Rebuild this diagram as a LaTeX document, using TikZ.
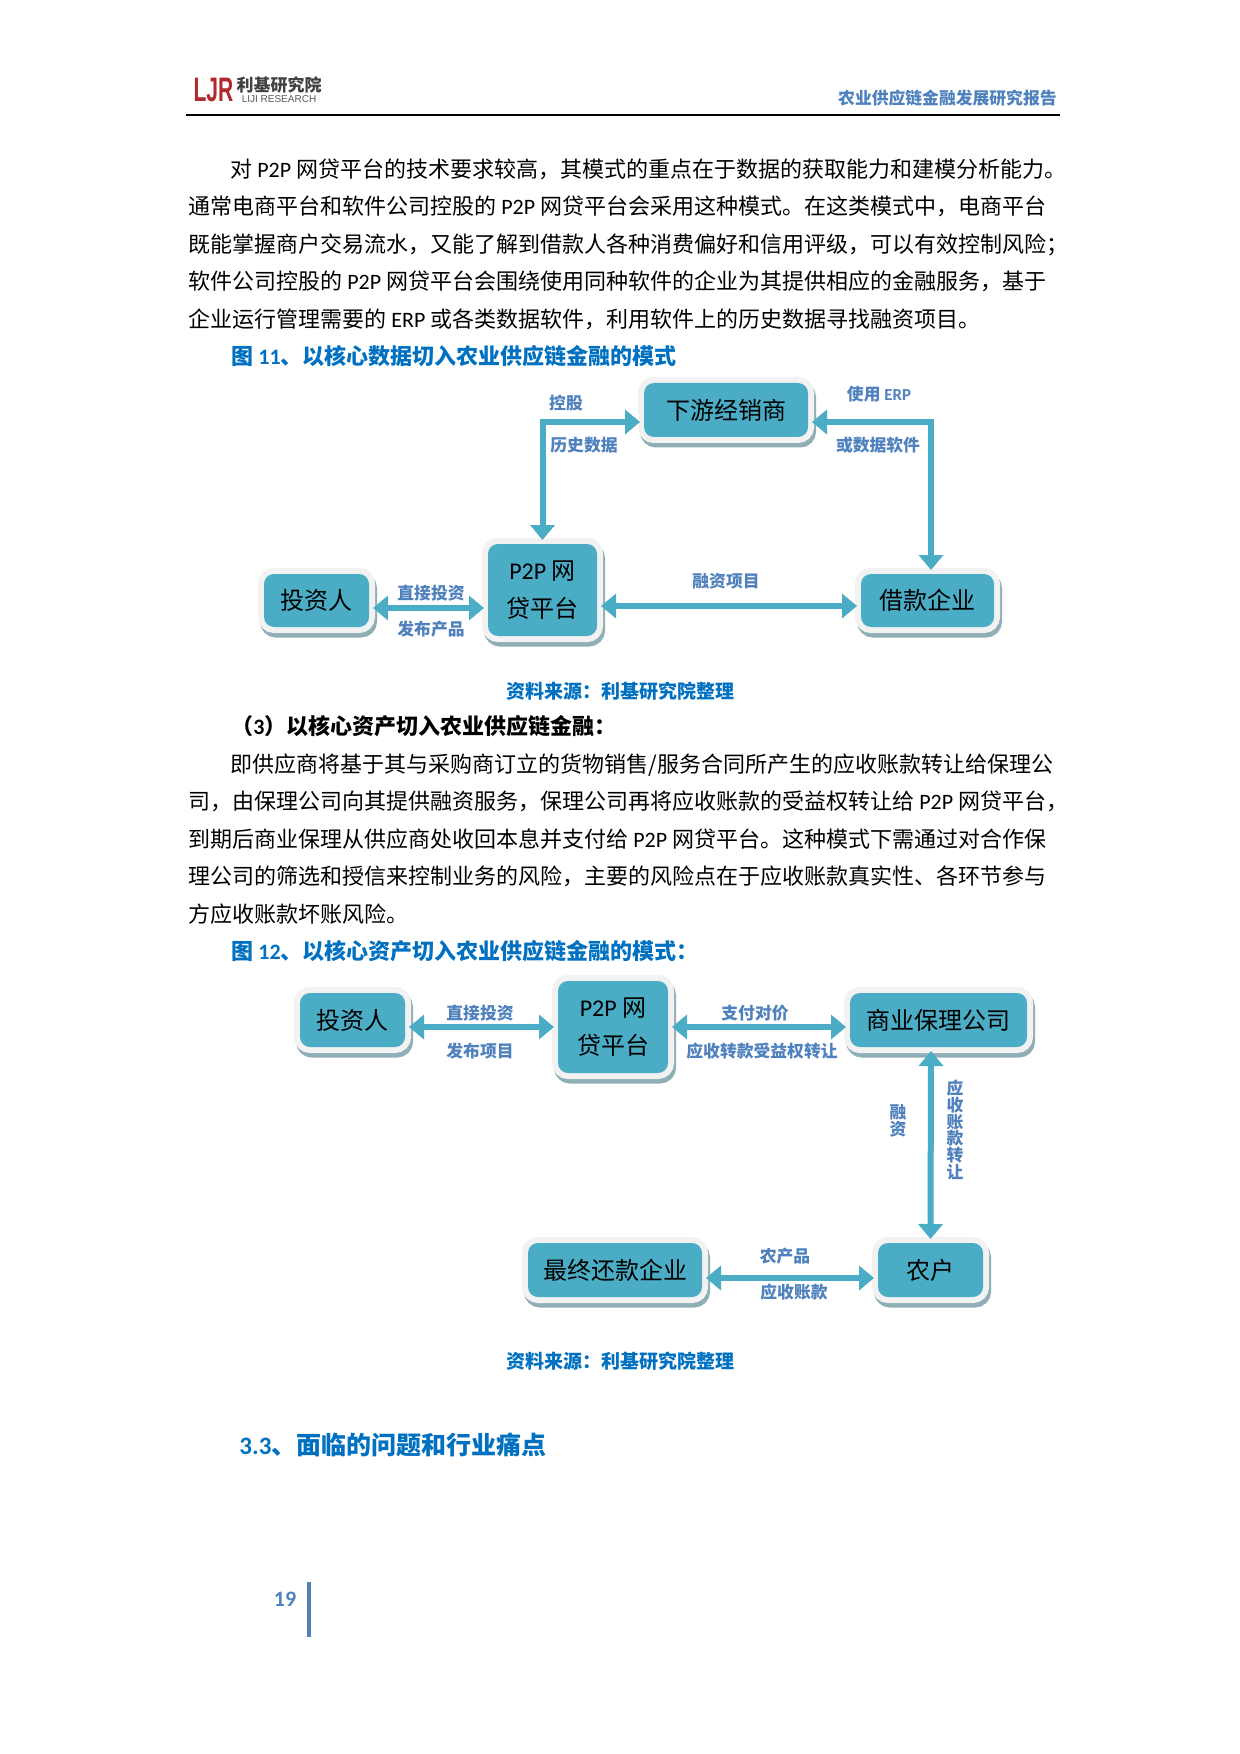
\documentclass[tikz,border=0pt]{standalone}
\usepackage{fontspec}
\setmainfont{Noto Sans CJK SC}
\newfontfamily\latfont{Carlito}
\newfontfamily\logofont{Liberation Sans}
\usepackage{tikz}
\usetikzlibrary{positioning,arrows.meta}
\definecolor{boxteal}{HTML}{4BACC6}
\definecolor{boxedge}{HTML}{F2F2F2}
\definecolor{boxshade}{HTML}{8FAEB6}
\definecolor{labelblue}{HTML}{4F81BD}
\definecolor{headblue}{HTML}{0070C0}
\definecolor{logored}{HTML}{B22A2E}
\newcommand{\lat}[1]{{\latfont #1}}
\tikzset{
	flowbox/.style={
		fill=boxteal,
		rounded corners=5pt,
		inner sep=0pt,
		outer sep=2pt,
		align=center,
		font=\fontsize{12}{19}\selectfont,
		preaction={draw=boxshade,line width=6pt,transform canvas={xshift=1pt,yshift=-2.25pt}},
		preaction={draw=boxedge,line width=6pt}
	},
	flowarrow/.style={
		<->,
		>={Triangle[length=7.5pt,width=12pt]},
		draw=boxteal,
		line width=3pt
	},
	flowlabel/.style={
		text=labelblue,
		inner sep=0pt,
		align=center,
		font=\fontsize{8.4}{8.4}\selectfont\bfseries
	},
	bodytext/.style={
		anchor=west,
		inner sep=0pt,
		align=left,
		font=\fontsize{11}{18.75}\selectfont
	},
	figtitle/.style={
		anchor=west,
		inner sep=0pt,
		text=headblue,
		font=\fontsize{11}{13}\selectfont\bfseries
	},
	sourcetext/.style={
		inner sep=0pt,
		text=headblue,
		font=\fontsize{9.5}{12}\selectfont\bfseries
	}
}
\begin{document}
\begin{tikzpicture}[x=0.5pt,y=-0.5pt]
			
			\useasboundingbox[fill=white](0,0)rectangle(1240,1754);
			
			\node(logomark)[inner sep=0pt,text=logored] at (213.5,89.5){\scalebox{0.62}[1]{\logofont\fontsize{17}{17}\selectfont\bfseries LJR}};
			
			\node(logoname)[inner sep=0pt,text=black!75,font=\fontsize{8.5}{9}\selectfont\bfseries] at (279,85){利基研究院};
			
			\node(logolat)[inner sep=0pt,text=black!65,font=\logofont\fontsize{5}{6}\selectfont] at (279,99){LIJI RESEARCH};
			
			\node(reporttitle)[anchor=east,inner sep=0pt,text=labelblue,font=\fontsize{8.4}{10}\selectfont\bfseries] at (1057,98){农业供应链金融发展研究报告};
			
			\draw[line width=1pt](185.5,115)--(1060,115);
			
			\node(parafirst)[bodytext] at (188,244){\hspace*{21pt}对 \lat{P2P} 网贷平台的技术要求较高，其模式的重点在于数据的获取能力和建模分析能力。\\
				通常电商平台和软件公司控股的 \lat{P2P} 网贷平台会采用这种模式。在这类模式中，电商平台\\
				既能掌握商户交易流水，又能了解到借款人各种消费偏好和信用评级，可以有效控制风险；\\
				软件公司控股的 \lat{P2P} 网贷平台会围绕使用同种软件的企业为其提供相应的金融服务，基于\\
				企业运行管理需要的 \lat{ERP} 或各类数据软件，利用软件上的历史数据寻找融资项目。};
			
			\node(figone)[figtitle] at (231,356){图 \lat{11}、以核心数据切入农业供应链金融的模式};
			
			\node(invA)[flowbox,minimum width=52.5pt,minimum height=26.5pt] at (316.5,600.5){投资人};
			
			\node(ptpA)[flowbox,minimum width=54.5pt,minimum height=46pt,right=55.5pt of invA,yshift=5.25pt]{\lat{P2P} 网\\贷平台};
			
			\node(loanA)[flowbox,minimum width=66.5pt,minimum height=26.5pt,right=128pt of ptpA,yshift=-5.25pt]{借款企业};
			
			\node(dealerA)[flowbox,minimum width=82pt,minimum height=27pt,above=49.5pt of ptpA,xshift=91.75pt]{下游经销商};
			
			\draw[flowarrow]([yshift=-3.75pt]invA.east)--([yshift=-9pt]ptpA.west);
			
			\draw[flowarrow]([yshift=-8pt]ptpA.east)--([yshift=-2.75pt]loanA.west);
			
			\draw[flowarrow]([yshift=-6pt]dealerA.west)-|(ptpA.north);
			
			\draw[flowarrow]([yshift=-6pt]dealerA.east)-|([xshift=1.75pt]loanA.north);
			
			\node(holdlabel)[flowlabel] at (566,403){控股};
			
			\node(historylabel)[flowlabel] at (584,445){历史数据};
			
			\node(erplabel)[flowlabel] at (879,394){使用 \lat{ERP}};
			
			\node(softlabel)[flowlabel] at (878,445){或数据软件};
			
			\node(projlabel)[flowlabel] at (726,581){融资项目};
			
			\node(directA)[flowlabel] at (431,593){直接投资};
			
			\node(issueA)[flowlabel] at (431,629){发布产品};
			
			\node(sourceA)[sourcetext] at (620,691){资料来源：利基研究院整理};
			
			\node(subhead)[anchor=west,inner sep=0pt,font=\fontsize{11}{13}\selectfont\bfseries] at (231,726){（\lat{3}）以核心资产切入农业供应链金融：};
			
			\node(parasecond)[bodytext] at (188,839){\hspace*{21pt}即供应商将基于其与采购商订立的货物销售/服务合同所产生的应收账款转让给保理公\\
				司，由保理公司向其提供融资服务，保理公司再将应收账款的受益权转让给 \lat{P2P} 网贷平台，\\
				到期后商业保理从供应商处收回本息并支付给 \lat{P2P} 网贷平台。这种模式下需通过对合作保\\
				理公司的筛选和授信来控制业务的风险，主要的风险点在于应收账款真实性、各环节参与\\
				方应收账款坏账风险。};
			
			\node(figtwo)[figtitle] at (231,951){图 \lat{12}、以核心资产切入农业供应链金融的模式：};
			
			\node(invB)[flowbox,minimum width=52.5pt,minimum height=27pt] at (352.5,1020){投资人};
			
			\node(ptpB)[flowbox,minimum width=55pt,minimum height=46pt,right=72.5pt of invB,yshift=-3.5pt]{\lat{P2P} 网\\贷平台};
			
			\node(factorB)[flowbox,minimum width=88.5pt,minimum height=27pt,right=87pt of ptpB,yshift=3.5pt]{商业保理公司};
			
			\node(farmerB)[flowbox,minimum width=52.5pt,minimum height=27pt,below=94pt of factorB,xshift=-4pt]{农户};
			
			\node(finalB)[flowbox,minimum width=87pt,minimum height=27pt,left=84pt of farmerB]{最终还款企业};
			
			\draw[flowarrow]([yshift=-3.5pt]invB.east)--(ptpB.west);
			
			\draw[flowarrow](ptpB.east)--([yshift=-3.5pt]factorB.west);
			
			\draw[flowarrow]([xshift=-3.75pt]factorB.south)--(farmerB.north);
			
			\draw[flowarrow]([yshift=-4pt]finalB.east)--([yshift=-4pt]farmerB.west);
			
			\node(directB)[flowlabel] at (480,1013){直接投资};
			
			\node(issueB)[flowlabel] at (480,1051){发布项目};
			
			\node(paylabel)[flowlabel] at (755,1013){支付对价};
			
			\node(assignlabel)[flowlabel] at (762,1051){应收转款受益权转让};
			
			\node(financelabel)[flowlabel] at (898,1121){融\\资};
			
			\node(transferlabel)[flowlabel] at (955,1130){应\\收\\账\\款\\转\\让};
			
			\node(goodslabel)[flowlabel] at (785,1256){农产品};
			
			\node(duelabel)[flowlabel] at (794,1292){应收账款};
			
			\node(sourceB)[sourcetext] at (620,1361){资料来源：利基研究院整理};
			
			\node(sectionhead)[anchor=west,inner sep=0pt,text=headblue,font=\fontsize{12.5}{15}\selectfont\bfseries] at (239,1445){\lat{3.3}、面临的问题和行业痛点};
			
			\node(pagenum)[inner sep=0pt,text=labelblue,font=\latfont\fontsize{11}{13}\selectfont\bfseries] at (285,1599){19};
			
			\draw[draw=labelblue,line width=2pt](309,1582)--(309,1637);
			
		\end{tikzpicture}
\end{document}
